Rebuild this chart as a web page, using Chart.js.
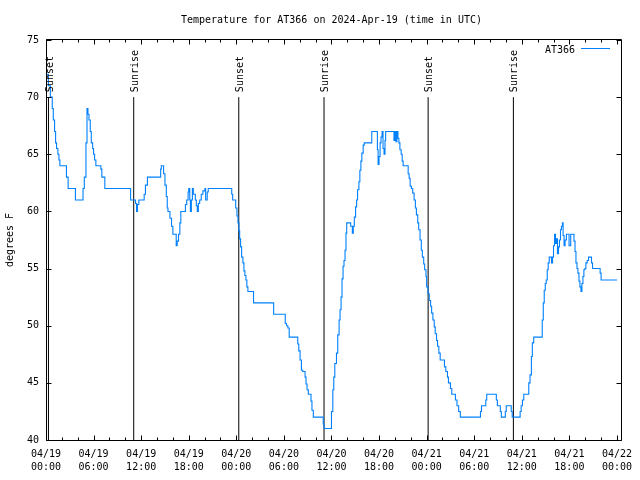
<!DOCTYPE html>
<html><head><meta charset="utf-8">
<script src="https://cdn.jsdelivr.net/npm/chart.js@4/dist/chart.umd.min.js"></script>
<style>html,body{margin:0;padding:0;background:#fff;}#wrap{width:640px;height:480px;}</style>
</head><body><div id="wrap"><canvas id="c" width="640" height="480"></canvas></div>
<script>
// ---- data (hours since 04/19 00:00 UTC, value takes effect at that hour) ----
const tempHours = [0.00,0.30,0.55,0.79,0.92,1.08,1.21,1.33,1.50,1.63,1.75,2.58,2.79,3.71,4.67,4.83,5.04,5.17,5.29,5.42,5.58,5.71,5.88,6.00,6.13,6.29,6.92,7.04,7.42,10.67,11.29,11.42,11.54,11.71,12.38,12.54,12.79,14.46,14.54,14.83,15.00,15.17,15.29,15.38,15.63,15.83,16.00,16.42,16.54,16.71,16.88,17.00,17.58,17.75,17.92,18.00,18.13,18.21,18.33,18.46,18.58,18.83,18.96,19.08,19.21,19.38,19.58,19.79,20.04,20.13,20.33,20.46,23.42,23.54,23.92,24.08,24.21,24.33,24.42,24.54,24.67,24.83,24.96,25.08,25.21,25.33,25.46,26.17,28.71,30.17,30.33,30.50,30.67,31.75,31.88,32.04,32.21,32.38,32.67,32.79,32.92,33.08,33.42,33.54,33.71,34.96,35.08,36.00,36.17,36.29,36.42,36.63,36.79,36.96,37.08,37.21,37.33,37.46,37.58,37.71,37.83,37.92,38.42,38.63,38.75,38.88,39.04,39.17,39.29,39.46,39.58,39.71,39.83,40.00,40.13,41.08,41.79,41.88,42.00,42.13,42.25,42.38,42.50,42.63,42.75,42.83,43.88,44.00,44.13,44.25,44.38,44.50,44.63,44.79,44.92,45.04,45.67,45.79,45.92,46.08,46.25,46.42,46.58,46.71,46.88,47.00,47.17,47.33,47.46,47.63,47.75,47.92,48.00,48.17,48.33,48.50,48.63,48.79,48.96,49.08,49.25,49.38,49.54,49.71,50.25,50.42,50.63,50.75,51.00,51.17,51.63,51.83,52.04,52.25,54.79,54.92,55.46,55.58,56.79,56.92,57.29,57.42,57.92,58.04,58.67,58.79,59.79,59.92,60.08,60.25,60.88,61.04,61.21,61.33,61.50,62.58,62.71,62.83,62.96,63.08,63.21,63.33,63.46,63.75,63.88,64.00,64.13,64.25,64.38,64.50,64.63,64.75,64.88,65.00,65.13,65.21,65.33,65.46,65.63,65.96,66.17,66.58,66.71,66.83,66.96,67.08,67.21,67.33,67.46,67.58,67.71,67.83,67.96,68.08,68.25,68.42,68.79,68.92,69.88,70.00,72.00];
const tempValues = [72,71,70,69,68,67,66,65.5,65,64.5,64,63,62,61,62,63,66,69,68.5,68,67,66,65.5,65,64.5,64,63.7,63,62,61,60.7,60,60.6,61,61.5,62.3,63,63.7,64,63.3,62.3,61.3,60.3,60,59.4,58.7,58,57,57.4,58,59,60,60.6,61,61.7,62,61,60,61,62,61.5,61,60.5,60,60.7,61,61.5,61.8,62,61,61.7,62,61.5,61,60.3,59.6,59,58.3,57.6,56.9,56,55.5,54.8,54.4,54,53.4,53,52,51,50.2,50,49.8,49,48.4,47.8,47,46.1,46,45.5,44.9,44.4,44,43.4,42.6,42,41.4,41,42.5,44.4,45.5,46.7,47.6,49.2,50.5,51.4,52.5,54.1,55.2,55.7,56.6,58.1,59,58.7,58.1,58.7,59.5,60.4,61,61.9,62.6,63.6,64.4,65.1,65.8,66,67,65.4,64.1,64.8,66,66.5,67,65.5,65,66.2,67,66.2,67,66.1,67,66.4,66,65.4,65,64.4,64,63.3,62.9,62.2,62,61.6,61,60.3,59.7,59,58.4,57.5,56.6,56,55.4,54.9,54.3,53.4,52.8,52.2,51.7,51.1,50.5,49.9,49.3,48.7,48.2,47.6,47,46.4,46,45.5,45,44.5,44,43.5,43,42.5,42,42.5,43,43.5,44,43.5,43,42.5,42,42.5,43,42.5,42,42.5,43,43.5,44,45,45.7,47.3,48.5,49,50.5,52,53.1,53.7,54,54.9,55.5,56,55.5,56,57,58,57.2,57.6,56.3,56.9,57.5,58.4,58.7,59,57.9,57,57.5,58,57,58,57.4,56.5,55.5,55,54.6,53.9,53.4,53,53.7,54.3,54.9,55,55.5,55.7,56,55.5,55,54.6,54,54];
const sunsetHours = [0.31, 24.31, 48.19];
const sunriseHours = [11.06, 35.06, 58.94];
const sunLineTop = 70;
const xTickHours = [0,2,4,6,8,10,12,14,16,18,20,22,24,26,28,30,32,34,36,38,40,42,44,46,48,50,52,54,56,58,60,62,64,66,68,70,72];
const xTickDates = ['04/19','04/19','04/19','04/19','04/20','04/20','04/20','04/20','04/21','04/21','04/21','04/21','04/22'];
const xTickTimes = ['00:00','06:00','12:00','18:00','00:00','06:00','12:00','18:00','00:00','06:00','12:00','18:00','00:00'];
const yTickValues = [40,45,50,55,60,65,70,75];
const seriesName = 'AT366';
const titleText = 'Temperature for AT366 on 2024-Apr-19 (time in UTC)';
const yAxisTitle = 'degrees F';

const FONT = '10px "DejaVu Sans Mono", "Liberation Mono", monospace';
const BLUE = '#0080ff';

const datasets = [{
  label: seriesName,
  data: tempHours.map((h, i) => ({x: h, y: tempValues[i]})),
  borderColor: BLUE, borderWidth: 1.1, pointRadius: 0, fill: false,
  stepped: 'before', order: 0
}];
sunsetHours.concat(sunriseHours).forEach(h => {
  datasets.push({label: 'sun', data: [{x: h, y: 40}, {x: h, y: sunLineTop}],
    borderColor: '#000', borderWidth: 1, pointRadius: 0, fill: false, order: 1});
});

const decor = {
  id: 'decor',
  afterDraw(chart) {
    const ctx = chart.ctx, a = chart.chartArea;
    const xs = chart.scales.x, ys = chart.scales.y;
    const L = 46.5, R = 621.5, T = 39.5, B = 440.5;
    ctx.save();
    ctx.strokeStyle = '#000'; ctx.lineWidth = 1;
    ctx.beginPath();
    ctx.rect(L, T, R - L, B - T);
    xTickHours.forEach(h => {
      const px = Math.round(xs.getPixelForValue(h)) + 0.5;
      const len = (h % 6 === 0) ? 5 : 3;
      ctx.moveTo(px, B); ctx.lineTo(px, B - len);
      ctx.moveTo(px, T); ctx.lineTo(px, T + len);
    });
    yTickValues.forEach(v => {
      const py = Math.round(ys.getPixelForValue(v)) + 0.5;
      ctx.moveTo(L, py); ctx.lineTo(L + 5, py);
      ctx.moveTo(R, py); ctx.lineTo(R - 5, py);
    });
    ctx.stroke();
    ctx.fillStyle = '#000';
    ctx.font = FONT;
    // title
    ctx.textAlign = 'center'; ctx.textBaseline = 'middle';
    ctx.fillText(titleText, (a.left + a.right) / 2, 20);
    // y axis title
    ctx.save();
    ctx.translate(10, (a.top + a.bottom) / 2);
    ctx.rotate(-Math.PI / 2);
    ctx.fillText(yAxisTitle, 0, 0);
    ctx.restore();
    // sun labels
    const lab = (h, t) => {
      ctx.save();
      ctx.translate(xs.getPixelForValue(h) + 1.5, ys.getPixelForValue(sunLineTop) - 5);
      ctx.rotate(-Math.PI / 2);
      ctx.textAlign = 'left'; ctx.textBaseline = 'middle';
      ctx.fillText(t, 0, 0);
      ctx.restore();
    };
    sunsetHours.forEach(h => lab(h, 'Sunset'));
    sunriseHours.forEach(h => lab(h, 'Sunrise'));
    // legend
    ctx.textAlign = 'right'; ctx.textBaseline = 'middle';
    ctx.fillText(seriesName, 575, 50);
    ctx.strokeStyle = BLUE;
    ctx.beginPath(); ctx.moveTo(581, 48.5); ctx.lineTo(610, 48.5); ctx.stroke();
    ctx.restore();
  }
};

new Chart(document.getElementById('c'), {
  type: 'line',
  data: {datasets},
  options: {
    responsive: false, animation: false, devicePixelRatio: 1,
    layout: {padding: {left: 0, top: 40, right: 18, bottom: 0}},
    plugins: {legend: {display: false}, title: {display: false}, tooltip: {enabled: false}},
    scales: {
      x: {
        type: 'linear', position: 'bottom', min: 0, max: 72,
        afterFit: s => { s.height = 40; },
        afterBuildTicks: s => { s.ticks = xTickHours.map(v => ({value: v})); },
        grid: {display: false, drawTicks: false}, border: {display: false},
        ticks: {autoSkip: false, maxRotation: 0, minRotation: 0, padding: 8, color: '#000',
          font: {family: '"DejaVu Sans Mono", "Liberation Mono", monospace', size: 10, lineHeight: 1.3},
          callback: v => (v % 6 === 0) ? [xTickDates[v / 6], xTickTimes[v / 6]] : ''}
      },
      y: {
        type: 'linear', position: 'left', min: 40, max: 75,
        afterFit: s => { s.width = 46; },
        afterBuildTicks: s => { s.ticks = yTickValues.map(v => ({value: v})); },
        grid: {display: false, drawTicks: false}, border: {display: false},
        ticks: {autoSkip: false, padding: 7, color: '#000',
          font: {family: '"DejaVu Sans Mono", "Liberation Mono", monospace', size: 10}}
      }
    }
  },
  plugins: [decor]
});
</script></body></html>
